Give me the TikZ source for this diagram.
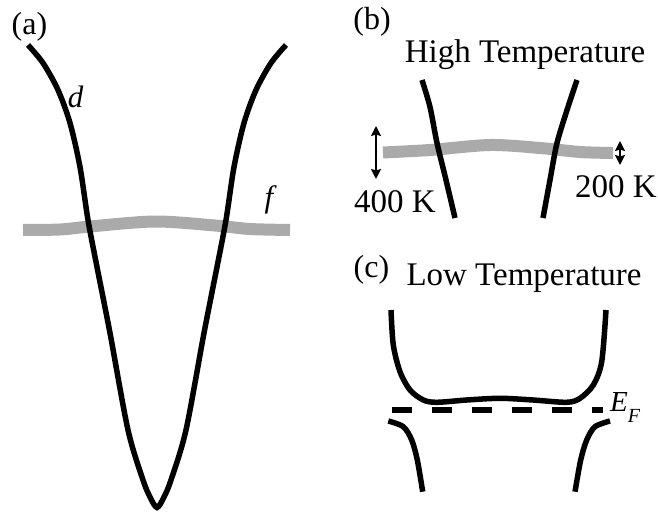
\documentclass[tikz,border=0pt]{standalone}
\usepackage{fontspec}
\setmainfont{Liberation Serif}
\usepackage{tikz}
\usetikzlibrary{arrows.meta,positioning}
\definecolor{inkBlack}{RGB}{0, 0, 0}
\definecolor{fBandGray}{RGB}{170, 170, 170}
\tikzset{
    dband/.style={draw=inkBlack, line width=5.5pt, line cap=butt},
    fband/.style={draw=fBandGray, line width=12pt, line cap=butt},
    panellabel/.style={inner sep=0pt, font=\fontsize{32}{32}\selectfont},
    titlelabel/.style={inner sep=0pt, anchor=base, font=\fontsize{33}{33}\selectfont},
    bandlabel/.style={inner sep=0pt, font=\fontsize{31}{31}\selectfont\itshape},
    tempArrow/.style={draw=inkBlack, line width=2.7pt, {Stealth[length=10pt,width=10pt,inset=1.5pt]}-{Stealth[length=10pt,width=10pt,inset=1.5pt]}}
}

\begin{document}
\begin{tikzpicture}[x=1pt, y=-1pt]
                \useasboundingbox (0,0) rectangle (658,521);
                % (a) wide d band crossed by flat f band
                \draw[fband] plot[smooth] coordinates {(23,230) (60,229.5) (90,226.5) (155,221.5) (215,225.5) (250,229) (290,230)};
                \draw[dband] plot[smooth, tension=0.5] coordinates {(28,45) (43,63) (58,90) (70,123) (80,167) (88,220) (97,267) (110,333) (128,430) (143,480) (150.5,498) (157,507.5)
                    (163.5,498) (171,480) (186,430) (204,333) (217,267) (226,220) (234,167) (244,123) (256,90) (271,63) (286,45)};
                \node[panellabel] (labA) at (29.5,26.5) {(a)};
                \node[bandlabel] (labD) at (75.5,97) {d};
                \node[bandlabel] (labF) at (269,200) {f};
                % (b) high temperature
                \node[panellabel] (labB) at (372,22) {(b)};
                \node[titlelabel] (highT) at (525,63) {High Temperature};
                \draw[fband] plot[smooth] coordinates {(383,152.5) (430,150) (490,145) (540,148) (580,152) (613,153)};
                \draw[dband] plot[smooth] coordinates {(422,80) (430,107) (437,143) (446,180) (455,218)};
                \draw[dband] plot[smooth] coordinates {(577,80) (568,107) (557,143) (550,180) (543,218)};
                \coordinate (wideTop) at (376,126);
                \coordinate (wideBot) at (376,179);
                \coordinate (narrowTop) at (620,141);
                \coordinate (narrowBot) at (620,165);
                \draw[tempArrow] (wideTop) -- (wideBot);
                \draw[tempArrow] (narrowTop) -- (narrowBot);
                \node[titlelabel] (hot) at (395,213) {400 K};
                \node[titlelabel] (warm) at (616,198) {200 K};
                % (c) low temperature, hybridisation gap at E_F
                \node[panellabel] (labC) at (371.5,270) {(c)};
                \node[titlelabel] (lowT) at (524,285) {Low Temperature};
                \draw[dband] plot[smooth] coordinates {(391,310) (393.3,345) (400,371.7) (410,390) (423.3,400) (436.7,402.3) (466.7,400) (500,398.3)
                    (533,400) (566.7,402.3) (580,398.3) (593.3,385) (601.7,361.7) (606,310)};
                \draw[dband] plot[smooth] coordinates {(388.3,421) (403.3,426.7) (411.7,440) (417.3,460) (422.7,491.7)};
                \draw[dband] plot[smooth] coordinates {(610,421) (595,426.7) (586.7,440) (580.7,460) (575,491.7)};
                \coordinate (fermiL) at (392,410);
                \coordinate (fermiR) at (603,410);
                \draw[draw=inkBlack, line width=6pt, dash pattern=on 20pt off 20pt] (fermiL) -- (fermiR);
                \node[inner sep=0pt, anchor=base west, font=\fontsize{29}{29}\selectfont\itshape] (fermi) at (610,411.7) {E\raisebox{-11pt}{\fontsize{20}{20}\selectfont F}};
            \end{tikzpicture}
\end{document}
